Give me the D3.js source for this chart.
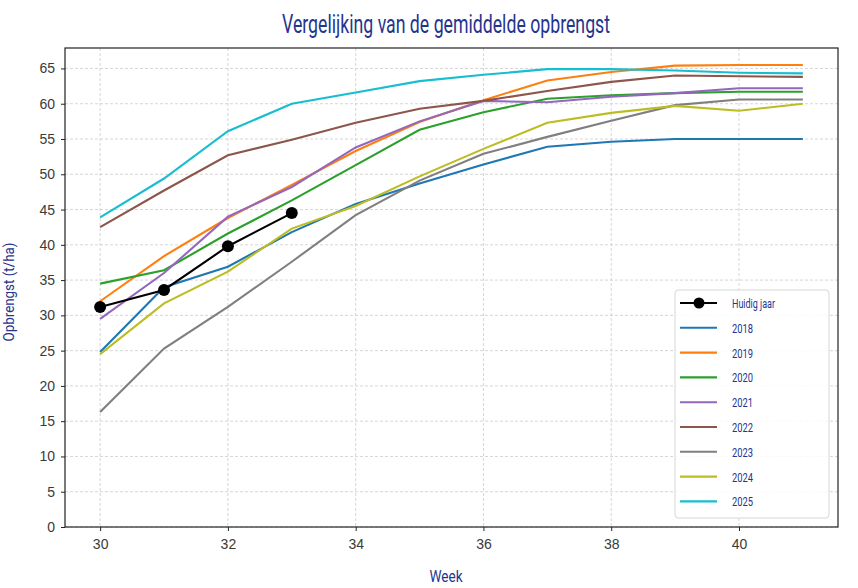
<!DOCTYPE html>
<html><head><meta charset="utf-8">
<script src="https://cdn.jsdelivr.net/npm/d3@7"></script>
<style>
body{margin:0;background:#fff;}
svg{display:block;}
</style></head><body>
<svg id="chart" width="858" height="588"></svg>
<script>
const weeks = [30,31,32,33,34,35,36,37,38,39,40,41];
const currentWeeks = [30,31,32,33];
const currentValues = [31.2,33.6,39.8,44.5];
const y2018 = [24.8,34.0,36.9,41.8,45.8,48.7,51.4,53.9,54.6,55.0,55.0,55.0];
const y2019 = [32.0,38.4,43.8,48.5,53.3,57.4,60.5,63.3,64.5,65.4,65.5,65.5];
const y2020 = [34.5,36.4,41.6,46.3,51.3,56.3,58.8,60.7,61.2,61.5,61.7,61.7];
const y2021 = [29.5,36.0,44.0,48.2,53.8,57.5,60.4,60.2,61.0,61.5,62.2,62.2];
const y2022 = [42.5,47.7,52.7,54.9,57.3,59.3,60.4,61.8,63.1,64.0,63.9,63.8];
const y2023 = [16.3,25.3,31.2,37.6,44.2,49.1,52.9,55.3,57.6,59.8,60.6,60.6];
const y2024 = [24.5,31.7,36.2,42.3,45.5,49.7,53.6,57.3,58.7,59.7,59.0,60.0];
const y2025 = [43.9,49.4,56.1,60.0,61.6,63.2,64.1,64.9,64.9,64.7,64.4,64.3];
const years = ["2018","2019","2020","2021","2022","2023","2024","2025"];
const yearValues = [y2018,y2019,y2020,y2021,y2022,y2023,y2024,y2025];
const colors = ["#1f77b4","#ff7f0e","#2ca02c","#9467bd","#8c564b","#7f7f7f","#bcbd22","#17becf"];
const xTicks = [30,32,34,36,38,40];
const yTicks = [0,5,10,15,20,25,30,35,40,45,50,55,60,65];
const title = "Vergelijking van de gemiddelde opbrengst";
const xLabel = "Week";
const yLabel = "Opbrengst (t/ha)";
const currentLabel = "Huidig jaar";

const navy = "#24358f";
const condensed = "'Roboto','Liberation Sans',sans-serif";
const svg = d3.select("#chart");
const m = {l:65, r:838, t:48, b:527};
const x = d3.scaleLinear().domain([29.45, 41.55]).range([m.l, m.r]);
const y = d3.scaleLinear().domain([0, 67.9]).range([m.b, m.t]);

function narrowText(sel, len){
  return sel.attr("textLength", len).attr("lengthAdjust","spacingAndGlyphs");
}

// grid
const g = svg.append("g");
g.selectAll(".gx").data(xTicks).join("line")
  .attr("x1", d=>x(d)).attr("x2", d=>x(d)).attr("y1", m.t).attr("y2", m.b)
  .attr("stroke","#cccccc").attr("stroke-width",0.8).attr("stroke-dasharray","3,2");
g.selectAll(".gy").data(yTicks).join("line")
  .attr("x1", m.l).attr("x2", m.r).attr("y1", d=>y(d)).attr("y2", d=>y(d))
  .attr("stroke","#cccccc").attr("stroke-width",0.8).attr("stroke-dasharray","3,2");

// lines
const line = d3.line().x(d=>x(d[0])).y(d=>y(d[1]));
yearValues.forEach((vals,i)=>{
  svg.append("path").datum(weeks.map((w,j)=>[w,vals[j]]))
    .attr("d", line).attr("fill","none").attr("stroke",colors[i]).attr("stroke-width",2.1);
});
const cur = currentWeeks.map((w,j)=>[w,currentValues[j]]);
svg.append("path").datum(cur).attr("d",line).attr("fill","none").attr("stroke","#000").attr("stroke-width",2.1);
svg.selectAll(".dot").data(cur).join("circle")
  .attr("cx",d=>x(d[0])).attr("cy",d=>y(d[1])).attr("r",6).attr("fill","#000");

// frame
svg.append("rect").attr("x",m.l).attr("y",m.t).attr("width",m.r-m.l).attr("height",m.b-m.t)
  .attr("fill","none").attr("stroke","#222").attr("stroke-width",1.2);

// axes
const xAxis = svg.append("g").attr("transform",`translate(0,${m.b})`)
  .call(d3.axisBottom(x).tickValues(xTicks).tickSize(4).tickPadding(8).tickFormat(d3.format("d")));
const yAxis = svg.append("g").attr("transform",`translate(${m.l},0)`)
  .call(d3.axisLeft(y).tickValues(yTicks).tickSize(4).tickPadding(6).tickFormat(d3.format("d")));
[xAxis,yAxis].forEach(a=>{
  a.select(".domain").remove();
  a.selectAll("line").attr("stroke","#222");
  a.selectAll("text").attr("fill","#3a3a3a").style("font-family","'Liberation Sans',Arial,sans-serif").style("font-size","14px");
});

// titles
narrowText(svg.append("text").attr("x",446).attr("y",33).attr("text-anchor","middle")
  .attr("fill",navy).style("font-family",condensed).style("font-size","25px").text(title), 328);
narrowText(svg.append("text").attr("x",446).attr("y",582).attr("text-anchor","middle")
  .attr("fill",navy).style("font-family",condensed).style("font-size","16px").text(xLabel), 33);
narrowText(svg.append("text").attr("transform","translate(14,292) rotate(-90)").attr("text-anchor","middle")
  .attr("fill",navy).style("font-family",condensed).style("font-size","14px").text(yLabel), 99);

// legend
const lg = svg.append("g");
lg.append("rect").attr("x",675).attr("y",290).attr("width",154).attr("height",228).attr("rx",3)
  .attr("fill","#fff").attr("fill-opacity",0.85).attr("stroke","#d6d6d6");
const items = [{label:currentLabel,color:"#000",marker:true}].concat(years.map((yr,i)=>({label:yr,color:colors[i],marker:false})));
items.forEach((it,i)=>{
  const yy = 303 + i*24.8;
  lg.append("line").attr("x1",680).attr("x2",717).attr("y1",yy).attr("y2",yy)
    .attr("stroke",it.color).attr("stroke-width",2.1);
  if(it.marker) lg.append("circle").attr("cx",699).attr("cy",yy).attr("r",5.5).attr("fill","#000");
  narrowText(lg.append("text").attr("x",732).attr("y",yy+5).attr("fill",navy)
    .style("font-family",condensed).style("font-size","13px").text(it.label), it.marker ? 43 : 21);
});
</script>
</body></html>
